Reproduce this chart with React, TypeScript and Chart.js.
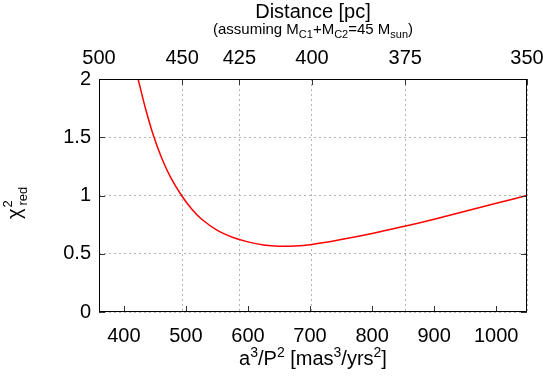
import React, { useEffect, useRef } from "react";
import { Chart, registerables } from "chart.js";

Chart.register(...registerables);

// a^3/P^2 values [mas^3/yrs^2] and reduced chi^2
const A3P2 = [423, 435, 448, 460, 475, 493, 510, 525, 550, 575, 600, 625, 650, 675, 700, 750, 800, 850, 900, 950, 1000, 1049];
const CHI2 = [2.0, 1.745, 1.51, 1.335, 1.16, 1.0, 0.88, 0.798, 0.703, 0.642, 0.602, 0.576, 0.565, 0.567, 0.578, 0.622, 0.674, 0.733, 0.797, 0.865, 0.933, 1.0];

const X_TICKS = [400, 500, 600, 700, 800, 900, 1000];
const Y_TICKS = [0, 0.5, 1, 1.5, 2];
const Y_LABELS = ["0", "0.5", "1", "1.5", "2"];
const DIST_TICKS = [500, 450, 425, 400, 375, 350];
const TOTAL_MASS = 45; // M_sun

const distToA = (d: number) => (TOTAL_MASS * 1e9) / (d * d * d);
const X_MIN = distToA(500);
const X_MAX = distToA(350);

const FONT = '"Liberation Sans", Arial, Helvetica, sans-serif';

function drawPieces(
  ctx: CanvasRenderingContext2D,
  pieces: { t: string; size: number; dy: number }[],
  cx: number,
  baseline: number
) {
  let total = 0;
  for (const p of pieces) {
    ctx.font = `${p.size}px ${FONT}`;
    total += ctx.measureText(p.t).width;
  }
  let x = cx - total / 2;
  ctx.textAlign = "left";
  ctx.textBaseline = "alphabetic";
  for (const p of pieces) {
    ctx.font = `${p.size}px ${FONT}`;
    ctx.fillText(p.t, x, baseline + p.dy);
    x += ctx.measureText(p.t).width;
  }
}

const decorPlugin = {
  id: "decor",
  afterDraw(chart: any) {
    const { ctx, chartArea } = chart;
    const { left, right, top, bottom } = chartArea;
    const xs = chart.scales.x;
    const x2 = chart.scales.x2;
    const ys = chart.scales.y;
    ctx.save();
    // inward tick marks
    ctx.strokeStyle = "#333";
    ctx.lineWidth = 1;
    ctx.beginPath();
    const TL = 6;
    for (const v of X_TICKS) {
      const px = Math.round(xs.getPixelForValue(v)) + 0.5;
      ctx.moveTo(px, bottom);
      ctx.lineTo(px, bottom - TL);
    }
    for (const d of DIST_TICKS) {
      const px = Math.round(x2.getPixelForValue(distToA(d))) + 0.5;
      ctx.moveTo(px, top);
      ctx.lineTo(px, top + TL);
    }
    for (const v of Y_TICKS) {
      const py = Math.round(ys.getPixelForValue(v)) + 0.5;
      ctx.moveTo(left, py);
      ctx.lineTo(left + TL, py);
      ctx.moveTo(right, py);
      ctx.lineTo(right - TL, py);
    }
    ctx.stroke();
    // border
    ctx.strokeStyle = "#000";
    ctx.lineWidth = 1;
    ctx.strokeRect(Math.round(left) + 0.5, Math.round(top) + 0.5, Math.round(right - left) - 1, Math.round(bottom - top) - 1);

    ctx.fillStyle = "#000";
    const cx = (left + right) / 2;
    // top titles
    drawPieces(ctx, [{ t: "Distance [pc]", size: 20, dy: 0 }], cx, 18);
    drawPieces(
      ctx,
      [
        { t: "(assuming M", size: 15, dy: 0 },
        { t: "C1", size: 11, dy: 4 },
        { t: "+M", size: 15, dy: 0 },
        { t: "C2", size: 11, dy: 4 },
        { t: "=45 M", size: 15, dy: 0 },
        { t: "sun", size: 11, dy: 4 },
        { t: ")", size: 15, dy: 0 },
      ],
      cx,
      34
    );
    // bottom title
    drawPieces(
      ctx,
      [
        { t: "a", size: 20, dy: 0 },
        { t: "3", size: 14, dy: -8 },
        { t: "/P", size: 20, dy: 0 },
        { t: "2", size: 14, dy: -8 },
        { t: " [mas", size: 20, dy: 0 },
        { t: "3", size: 14, dy: -8 },
        { t: "/yrs", size: 20, dy: 0 },
        { t: "2", size: 14, dy: -8 },
        { t: "]", size: 20, dy: 0 },
      ],
      cx,
      365
    );
    // y title (rotated)
    ctx.translate(21, 219);
    ctx.rotate(-Math.PI / 2);
    ctx.textAlign = "left";
    ctx.textBaseline = "alphabetic";
    ctx.font = `20px ${FONT}`;
    ctx.fillText("\u03c7", 0, 0);
    const w = ctx.measureText("\u03c7").width;
    ctx.font = `13px ${FONT}`;
    ctx.fillText("2", w + 1, -9);
    ctx.fillText("red", w + 3, 6);
    ctx.restore();
  },
};

export default function App() {
  const ref = useRef<HTMLCanvasElement | null>(null);
  useEffect(() => {
    if (!ref.current) return;
    const gridColor = "#b4b4b4";
    const chart = new Chart(ref.current, {
      type: "line",
      data: {
        datasets: [
          {
            data: A3P2.map((x, i) => ({ x, y: CHI2[i] })),
            borderColor: "#ff0000",
            borderWidth: 1.5,
            pointRadius: 0,
            tension: 0.4,
            fill: false,
            xAxisID: "x",
            yAxisID: "y",
          },
        ],
      },
      options: {
        animation: false,
        responsive: false,
        events: [],
        layout: { padding: { left: 0, right: 16, top: 0, bottom: 0 } },
        plugins: { legend: { display: false }, tooltip: { enabled: false }, title: { display: false } },
        scales: {
          x: {
            type: "linear",
            position: "bottom",
            min: X_MIN,
            max: X_MAX,
            afterBuildTicks: (s: any) => {
              s.ticks = X_TICKS.map((v) => ({ value: v }));
            },
            afterFit: (s: any) => {
              s.height = 65;
              s.paddingLeft = 0;
              s.paddingRight = 0;
            },
            grid: { display: false, drawTicks: false },
            border: { display: false },
            ticks: {
              color: "#000",
              font: { family: FONT, size: 20 },
              padding: 12,
              maxRotation: 0,
              autoSkip: false,
              callback: (v: any) => String(v),
            },
          },
          x2: {
            type: "linear",
            position: "top",
            min: X_MIN,
            max: X_MAX,
            afterBuildTicks: (s: any) => {
              s.ticks = DIST_TICKS.map((d) => ({ value: distToA(d) }));
            },
            afterFit: (s: any) => {
              s.height = 79;
              s.paddingLeft = 0;
              s.paddingRight = 0;
            },
            grid: { display: true, drawTicks: false, color: gridColor, lineWidth: 1 },
            border: { display: false, dash: [2, 3] },
            ticks: {
              color: "#000",
              font: { family: FONT, size: 20 },
              padding: 9,
              maxRotation: 0,
              autoSkip: false,
              callback: (_v: any, i: number) => String(DIST_TICKS[i]),
            },
          },
          y: {
            type: "linear",
            min: 0,
            max: 2,
            afterBuildTicks: (s: any) => {
              s.ticks = Y_TICKS.map((v) => ({ value: v }));
            },
            afterFit: (s: any) => {
              s.width = 99;
              s.paddingTop = 0;
              s.paddingBottom = 0;
            },
            grid: { display: true, drawTicks: false, color: gridColor, lineWidth: 1 },
            border: { display: false, dash: [2, 3] },
            ticks: {
              color: "#000",
              font: { family: FONT, size: 20 },
              padding: 8,
              autoSkip: false,
              callback: (_v: any, i: number) => Y_LABELS[i],
            },
          },
        },
      },
      plugins: [decorPlugin],
    } as any);
    return () => chart.destroy();
  }, []);
  return (
    <div style={{ position: "absolute", left: 0, top: 0, width: 543, height: 377, background: "#fff" }}>
      <canvas ref={ref} width={543} height={377} style={{ display: "block" }} />
    </div>
  );
}
